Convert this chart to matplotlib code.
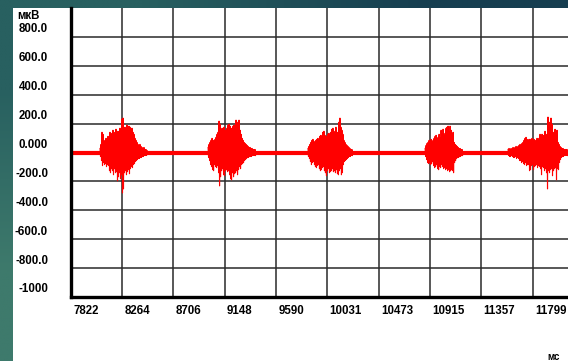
import numpy as np
import matplotlib
matplotlib.use('Agg')
import matplotlib.pyplot as plt
import matplotlib.transforms as mtransforms
from matplotlib.patches import Rectangle

plt.rcParams['font.family'] = ['Liberation Sans', 'DejaVu Sans']

# time axis (ms) and amplitude axis (uV)
x_ticks = [7822, 8264, 8706, 9148, 9590, 10031, 10473, 10915, 11357, 11799]
x_labels = ['7822', '8264', '8706', '9148', '9590', '10031', '10473', '10915', '11357', '11799']
y_ticks = [800, 600, 400, 200, 0, -200, -400, -600, -800, -1000]
y_labels = ['800.0', '600.0', '400.0', '200.0', '0.000', '-200.0', '-400.0', '-600.0', '-800.0', '-1000']
t_end = 12104
dt = 8.6  # ms between samples

# EMG bursts: start time (ms), positive peaks and negative peaks (uV) per sample
burst_start = [8076, 9006, 9866, 10874, 11588]
burst_up = [
    [28, 56, 140, 126, 70, 84, 98, 91, 112, 105, 140, 119, 133, 154, 126, 140, 161, 126, 147, 140, 168, 154, 231, 238,
     168, 175, 154, 189, 168, 182, 175, 154, 168, 140, 126, 98, 84, 70, 56, 49, 56, 42, 35, 28, 35, 21, 21, 14],
    [35, 56, 70, 84, 98, 84, 70, 91, 105, 126, 140, 217, 196, 154, 168, 140, 175, 154, 140, 168, 189, 196, 182, 168,
     154, 182, 189, 168, 224, 182, 210, 224, 154, 126, 98, 84, 70, 63, 56, 49, 42, 35, 35, 28, 28, 21, 21, 21],
    [28, 42, 56, 70, 84, 91, 77, 70, 84, 91, 98, 84, 112, 119, 105, 140, 147, 119, 98, 112, 126, 133, 105, 140,
     161, 168, 147, 126, 175, 119, 140, 210, 238, 175, 154, 126, 84, 70, 56, 49, 42, 35, 28, 21, 21],
    [28, 49, 63, 70, 84, 77, 91, 70, 84, 98, 112, 119, 91, 105, 126, 98, 154, 126, 161, 112, 133, 168, 175, 182,
     140, 182, 154, 126, 140, 70, 56, 49, 42, 35, 28, 28, 21, 21],
    [21, 28, 21, 28, 21, 35, 28, 35, 42, 35, 42, 49, 56, 49, 63, 70, 84, 98, 105, 91, 77, 91, 91, 77, 98, 84, 91, 84,
     77, 98, 91, 98, 126, 91, 126, 119, 112, 147, 126, 112, 245, 210, 154, 238, 196, 140, 126, 161, 112, 154, 70, 56,
     42, 35, 28, 28, 21, 21, 21, 21],
]
burst_down = [
    [28, 56, 91, 70, 84, 77, 98, 84, 91, 126, 140, 112, 126, 154, 112, 140, 133, 196, 168, 140, 182, 154, 280, 252,
     140, 126, 154, 133, 119, 147, 112, 98, 105, 84, 77, 63, 56, 49, 42, 42, 35, 35, 28, 28, 21, 21, 21, 14],
    [35, 56, 84, 98, 119, 126, 84, 98, 105, 91, 140, 231, 168, 126, 112, 154, 161, 126, 119, 133, 126, 154, 182, 189,
     140, 168, 147, 140, 126, 154, 119, 98, 112, 84, 77, 70, 56, 49, 42, 35, 35, 28, 28, 28, 21, 21, 21, 21],
    [28, 42, 63, 84, 70, 63, 84, 98, 105, 91, 84, 112, 126, 119, 105, 98, 126, 140, 161, 126, 112, 140, 133, 126,
     112, 133, 126, 140, 119, 147, 154, 126, 112, 154, 140, 84, 63, 56, 49, 42, 35, 28, 28, 21, 21],
    [28, 49, 70, 77, 70, 84, 77, 63, 91, 105, 98, 84, 112, 119, 98, 105, 84, 98, 112, 105, 119, 112, 126, 119,
     133, 126, 119, 126, 140, 70, 56, 42, 35, 35, 28, 28, 21, 21],
    [21, 28, 28, 21, 28, 35, 35, 28, 42, 35, 42, 56, 56, 70, 63, 77, 84, 70, 91, 84, 84, 126, 119, 91, 84, 119, 98, 91,
     84, 105, 91, 98, 112, 154, 98, 105, 126, 112, 140, 252, 126, 140, 119, 112, 161, 126, 112, 105, 189, 112, 119, 70,
     49, 35, 28, 28, 21, 21, 21, 21],
]

W, H = 568, 361
fig = plt.figure(figsize=(W / 100, H / 100), dpi=100)

# teal frame + white page
bg = fig.add_axes([0, 0, 1, 1], zorder=0)
bg.axis('off')
grad = np.array([[[40, 96, 96], [22, 62, 80]],
                 [[62, 122, 108], [40, 96, 96]]]) / 255.0
bg.imshow(grad, extent=[0, 1, 0, 1], aspect='auto', interpolation='bilinear')
bg.add_patch(Rectangle((13 / W, 0), 1, (H - 8) / H, transform=bg.transAxes,
                       facecolor='white', edgecolor='none'))
bg.set_xlim(0, 1)
bg.set_ylim(0, 1)

ax = fig.add_axes([70.5 / W, (H - 297) / H, (W - 70.5) / W, (297 - 8) / H], zorder=1)
ax.patch.set_alpha(0)
ax.set_xlim(x_ticks[0], t_end)
ax.set_ylim(-1000, 1000)

# grid
ax.vlines(x_ticks[1:], -1000, 1000, color='#2a2a2a', lw=1.1, zorder=1)
ax.hlines(y_ticks[:-1], x_ticks[0], t_end, color='#2a2a2a', lw=1.1, zorder=1)

for s in ['top', 'right']:
    ax.spines[s].set_visible(False)
for s in ['left', 'bottom']:
    ax.spines[s].set_linewidth(2.4)
    ax.spines[s].set_color('black')
    ax.spines[s].set_zorder(5)
ax.set_xticks([])
ax.set_yticks([])

# signal
ax.plot([x_ticks[0], t_end], [0, 0], color='red', lw=3, solid_capstyle='butt', zorder=3)
for t0, up, dn in zip(burst_start, burst_up, burst_down):
    n = len(up)
    tt = t0 + np.arange(n) * dt
    t = np.empty(2 * n)
    v = np.empty(2 * n)
    t[0::2] = tt
    t[1::2] = tt + dt / 2
    v[0::2] = up
    v[1::2] = -np.array(dn)
    ax.plot(t, v, color='red', lw=0.8, zorder=3)

# labels
fs = 8.3
ytr = mtransforms.offset_copy(
    mtransforms.blended_transform_factory(fig.transFigure, ax.transData),
    fig=fig, x=0, y=7.5, units='dots')
for val, lab in zip(y_ticks, y_labels):
    ax.text(48 / W, val, lab, transform=ytr, ha='right', va='center',
            fontsize=fs, fontweight='bold')

xtr = mtransforms.offset_copy(
    mtransforms.blended_transform_factory(ax.transData, fig.transFigure),
    fig=fig, x=2.5, y=0, units='dots')
for val, lab in zip(x_ticks, x_labels):
    ax.text(val, (H - 311) / H, lab, transform=xtr, ha='left', va='center',
            fontsize=fs, fontweight='bold')

fig.text(17 / W, (H - 16) / H, 'мкВ', ha='left', va='center', fontsize=fs, fontweight='bold')
fig.text(547 / W, (H - 357) / H, 'мс', ha='left', va='center', fontsize=7, fontweight='bold')

fig.savefig('out.png', dpi=100)
